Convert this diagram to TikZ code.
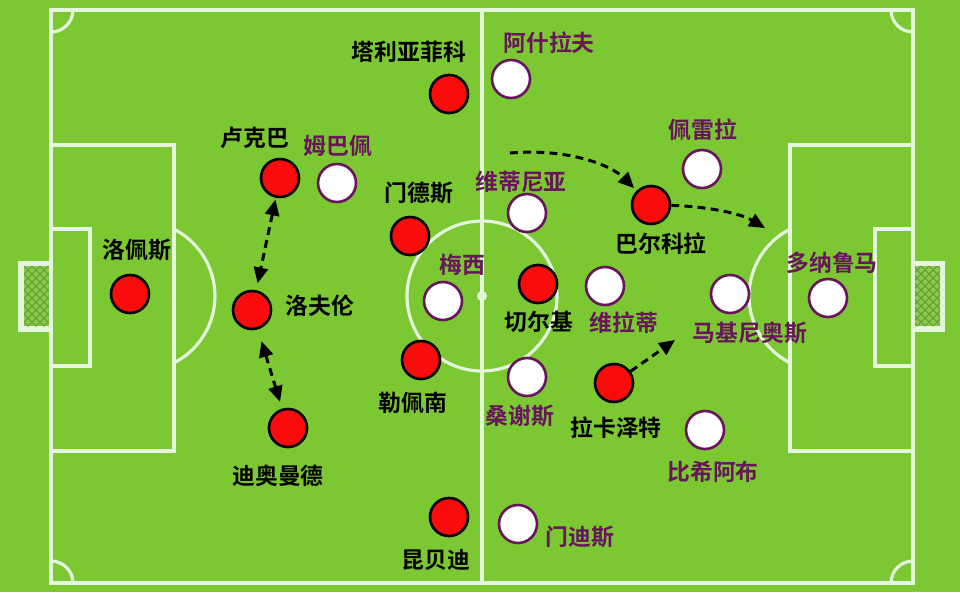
\documentclass[tikz,border=0pt]{standalone}
\usepackage{fontspec}
\newfontfamily\cjk{Noto Sans CJK SC}[BoldFont={* Bold}]
\usetikzlibrary{arrows.meta}
\definecolor{pitch}{RGB}{124,200,50}
\definecolor{chalk}{RGB}{228,246,220}
\definecolor{netbg}{RGB}{138,200,78}
\definecolor{netline}{RGB}{98,160,48}
\definecolor{plum}{RGB}{104,22,92}
\definecolor{redp}{RGB}{250,12,12}
\tikzset{
  chalkline/.style={chalk, line width=1.8pt},
  homep/.style={circle, draw=black, fill=redp, line width=1.5pt, minimum size=0.76cm, inner sep=0pt},
  awayp/.style={circle, draw=plum, fill=white, line width=1.5pt, minimum size=0.76cm, inner sep=0pt},
  homelab/.style={font=\cjk\bfseries\fontsize{13}{15}\selectfont, text=black, inner sep=0pt},
  awaylab/.style={font=\cjk\bfseries\fontsize{13}{15}\selectfont, text=plum, inner sep=0pt},
  move/.style={black, dash pattern=on 4.5pt off 3pt, line width=1.7pt, >={Triangle[length=9pt,width=8pt]}},
}
\begin{document}
\begin{tikzpicture}[x=0.02cm,y=-0.02cm]
\fill[pitch] (0,0) rectangle (960,592);% grass
\useasboundingbox (0,0) rectangle (960,592);
% goals with nets
\foreach \gx/\nx in {18/24, 913/913}{%
  \fill[chalk] (\gx,261) rectangle ++(32,71);
  \fill[netbg] (\nx,266) rectangle ++(27,60);
  \begin{scope}
    \clip (\nx,266) rectangle ++(27,60);
    \foreach \k in {-8,...,11}{% net lines both ways
      \draw[netline, line width=0.6pt] (\nx+\k*8,266) -- ++(60,60);
      \draw[netline, line width=0.6pt] (\nx+\k*8,266) -- ++(-60,60);}
  \end{scope}}
% pitch markings
\draw[chalkline] (51,10) rectangle (913,583);
\draw[chalkline] (482,10) -- (482,583);
\draw[chalkline] (482,296) circle (75);
\fill[chalk] (482,296) circle (5);
\draw[chalkline] (51,145) rectangle (174,451);
\draw[chalkline] (51,229) rectangle (90,366);
\draw[chalkline] (790,145) rectangle (913,451);
\draw[chalkline] (875,229) rectangle (913,366);
\draw[chalkline] (174,229.2) arc[start angle=-63, end angle=63, radius=75];
\draw[chalkline] (790,229.2) arc[start angle=243, end angle=117, radius=75];
\foreach \cx/\cy/\a/\b in {51/10/0/90, 913/10/180/90, 51/583/0/-90, 913/583/180/270}
  \draw[chalkline] (\cx,\cy) ++(\a:22) arc[start angle=\a, end angle=\b, radius=22];
% red side
\foreach \n/\x/\y in {lopes/130/294, lukeba/280/178, lovren/252/310, diomande/288/428,
    tagliafico/449/94, mendes/410/236, lepenant/421/360, cherki/538/284,
    kumbedi/449/517, barcola/651/205, lacazette/614/383}
  \node[homep] (\n) at (\x,\y) {};
\foreach \n/\x/\y/\t in {lopes/137/250/洛佩斯, lukeba/255/138/卢克巴, lovren/320/306/洛夫伦,
    diomande/278/476/迪奥曼德, tagliafico/409/52/塔利亚菲科, mendes/419/193/门德斯,
    lepenant/413/403/勒佩南, cherki/539/322/切尔基, kumbedi/436/560/昆贝迪,
    barcola/661/244/巴尔科拉, lacazette/616/428/拉卡泽特}
  \node[homelab] (\n-l) at (\x,\y) {\t};
% white side
\foreach \n/\x/\y in {mbappe/337/183, hakimi/511/79, vitinha/527/213, messi/443/301,
    verratti/605/286, sanches/527/377, nmendes/518/524, pereira/702/169,
    marquinhos/730/294, donnarumma/828/298, bitshiabu/705/430}
  \node[awayp] (\n) at (\x,\y) {};
\foreach \n/\x/\y/\t in {mbappe/338/146/姆巴佩, hakimi/549/43/阿什拉夫, vitinha/521/182/维蒂尼亚,
    messi/462/265/梅西, verratti/624/323/维拉蒂, sanches/520/416/桑谢斯,
    nmendes/580/537/门迪斯, pereira/703/130/佩雷拉, marquinhos/750/333/马基尼奥斯,
    donnarumma/832/263/多纳鲁马, bitshiabu/713/472/比希阿布}
  \node[awaylab] (\n-l) at (\x,\y) {\t};
% runs
\coordinate (vrun) at (510,153);
\coordinate (brun) at (765,228);
\coordinate (lrun) at (675,340);
\draw[move,<->,shorten <=1pt,shorten >=4pt] (lukeba) -- (lovren);
\draw[move,<->,shorten <=7pt,shorten >=4pt] (lovren) -- (diomande);
\draw[move,->,shorten >=2pt] (vrun) .. controls (570,148) and (612,166) .. (barcola);
\draw[move,->] (barcola) .. controls (700,206) and (738,212) .. (brun);
\draw[move,->] (lacazette) -- (lrun);
\end{tikzpicture}
\end{document}
